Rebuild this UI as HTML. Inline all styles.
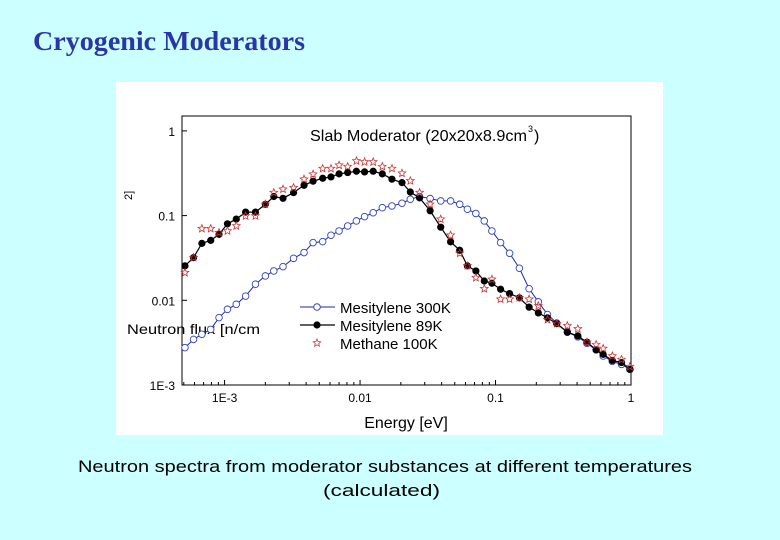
<!DOCTYPE html>
<html><head><meta charset="utf-8">
<style>
html,body{margin:0;padding:0;width:780px;height:540px;background:#ccffff;overflow:hidden}
svg{position:absolute;left:0;top:0}
</style></head>
<body>
<svg id="chart" width="780" height="540" xmlns="http://www.w3.org/2000/svg">
<text x="33" y="50" font-family="'Liberation Serif',serif" font-weight="bold" font-size="27" fill="#2a36a8" textLength="272" lengthAdjust="spacingAndGlyphs">Cryogenic Moderators</text>
<rect x="116" y="82" width="547" height="353" fill="#ffffff"/>
<g id="plot"></g>
<text x="78" y="472" font-family="'Liberation Sans',sans-serif" font-size="17" fill="#000" textLength="614" lengthAdjust="spacingAndGlyphs">Neutron spectra from moderator substances at different temperatures</text>
<text x="323" y="496" font-family="'Liberation Sans',sans-serif" font-size="17" fill="#000" textLength="117" lengthAdjust="spacingAndGlyphs">(calculated)</text>
</svg>
<script>
const energies=[5.1e-4,5.9e-4,6.8e-4,7.9e-4,9.1e-4,1.05e-3,1.22e-3,1.43e-3,1.69e-3,2.0e-3,2.31e-3,2.7e-3,3.23e-3,3.86e-3,4.5e-3,5.3e-3,6.1e-3,7.0e-3,8.1e-3,9.4e-3,0.0108,0.0125,0.0146,0.0172,0.0204,0.0235,0.0275,0.0329,0.0394,0.0466,0.0544,0.062,0.0716,0.0826,0.094,0.109,0.127,0.150,0.177,0.207,0.242,0.283,0.339,0.405,0.473,0.553,0.623,0.728,0.851,0.982];
const mes89=[0.0255,0.0319,0.047,0.051,0.060,0.080,0.091,0.110,0.110,0.136,0.168,0.160,0.187,0.228,0.255,0.276,0.286,0.311,0.322,0.334,0.328,0.334,0.311,0.269,0.245,0.190,0.162,0.114,0.073,0.049,0.039,0.0255,0.0222,0.0169,0.0159,0.0135,0.0120,0.0107,0.0083,0.0071,0.0062,0.0053,0.0042,0.0038,0.0032,0.0026,0.0023,0.00195,0.00184,0.00153];
const mes300=[0.00276,0.00346,0.00397,0.00454,0.00624,0.00783,0.00897,0.0112,0.0155,0.0194,0.0222,0.025,0.0313,0.0366,0.048,0.0493,0.0586,0.0659,0.0755,0.0865,0.0973,0.108,0.124,0.130,0.140,0.156,0.168,0.159,0.149,0.149,0.136,0.119,0.106,0.0865,0.0659,0.048,0.0359,0.0239,0.0137,0.0096,0.0068,0.0054,0.0042,0.0037,0.0031,0.0026,0.0022,0.0019,0.00175,0.00153];
const methane100=[0.0212,0.0319,0.0702,0.0702,0.063,0.0659,0.0755,0.099,0.099,0.136,0.187,0.205,0.214,0.269,0.308,0.359,0.359,0.393,0.379,0.442,0.430,0.430,0.379,0.359,0.316,0.257,0.187,0.136,0.0906,0.0586,0.0359,0.0255,0.0185,0.0137,0.0177,0.0103,0.0103,0.0107,0.0103,0.0086,0.0059,0.0053,0.0050,0.0046,0.0032,0.0030,0.0027,0.0022,0.0020,0.00165];
const xTicks=[0.001,0.01,0.1,1];
const xTickLabels=["1E-3","0.01","0.1","1"];
const yTicks=[0.001,0.01,0.1,1];
const yTickLabels=["1E-3","0.01","0.1","1"];

const NS="http://www.w3.org/2000/svg";
const g=document.getElementById('plot');
const L=182,R=631,T=116,B=385;
const xMin=Math.log10(4.85e-4),xMax=0;
const yMin=-3,yMax=-3+(B-T)/84.7;
function X(v){return L+(Math.log10(v)-xMin)/(xMax-xMin)*(R-L);}
function Y(v){return B-(Math.log10(v)-yMin)/(yMax-yMin)*(B-T);}
function mk(tag,attrs){const e=document.createElementNS(NS,tag);for(const k in attrs)e.setAttribute(k,attrs[k]);g.appendChild(e);return e;}
function txt(x,y,s,size,anchor){const e=mk('text',{x:x,y:y,'font-family':"'Liberation Sans',sans-serif",'font-size':size,'text-anchor':anchor||'start',fill:'#000'});e.textContent=s;return e;}

let fr=mk('rect',{x:L,y:T,width:R-L,height:B-T,fill:'none',stroke:'#000','stroke-width':1});



xTicks.forEach((v,i)=>{
  let l=mk('line',{x1:X(v),x2:X(v),y1:B,y2:B-5,stroke:'#000'});
  
  
  if(i<xTicks.length-1){for(let m=2;m<10;m++){const mv=v*m;let ml=mk('line',{x1:X(mv),x2:X(mv),y1:B,y2:B-3,stroke:'#000'});}}
  let t=txt(X(v),B+17,xTickLabels[i],12,'middle');
  
  
});
for(let m=5;m<10;m++){const mv=m*1e-4;let ml=mk('line',{x1:X(mv),x2:X(mv),y1:B,y2:B-3,stroke:'#000'});}
yTicks.forEach((v,i)=>{
  let l=mk('line',{x1:L,x2:L+5,y1:Y(v),y2:Y(v),stroke:'#000'});
  
  
  let t=txt(L-7,Y(v)+5,yTickLabels[i],12,'end');
  
  
});
let xt=txt(406,428,'Energy [eV]',16,'middle');


let yt=txt(127,334,'Neutron flux [n/cm',14,'start');


yt.setAttribute('textLength','133');
yt.setAttribute('lengthAdjust','spacingAndGlyphs');
let y2=txt(0,0,'2]',11,'start');
y2.setAttribute('transform','translate(132,200) rotate(-90)');


let ct=txt(310,141,'Slab Moderator (20x20x8.9cm',16,'start');
ct.setAttribute('textLength','217');
ct.setAttribute('lengthAdjust','spacingAndGlyphs');


let ct3=txt(528,132,'3',9,'start');


let ct4=txt(534,141,')',16,'start');



function pts(arr){return energies.map((e,i)=>X(e)+','+Y(arr[i])).join(' ');}
let l300=mk('polyline',{points:pts(mes300),fill:'none',stroke:'#1a2aa8','stroke-width':1});


energies.forEach((e,i)=>{let c=mk('circle',{cx:X(e),cy:Y(mes300[i]),r:3.3,fill:'#fff',stroke:'#3344bb','stroke-width':0.9});});
let l89=mk('polyline',{points:pts(mes89),fill:'none',stroke:'#000','stroke-width':1.2});


energies.forEach((e,i)=>{let c=mk('circle',{cx:X(e),cy:Y(mes89[i]),r:3.6,fill:'#000'});});
function star(cx,cy,r){let p=[];for(let k=0;k<10;k++){const a=-Math.PI/2+k*Math.PI/5;const rr=k%2?r*0.45:r;p.push((cx+rr*Math.cos(a)).toFixed(1)+','+(cy+rr*Math.sin(a)).toFixed(1));}return p.join(' ');}
energies.forEach((e,i)=>{let s=mk('polygon',{points:star(X(e),Y(methane100[i]),4),fill:'none',stroke:'#cc3333','stroke-width':0.8});});

let lg1=mk('line',{x1:300,x2:335,y1:307,y2:307,stroke:'#1a2aa8'});
let lc1=mk('circle',{cx:317,cy:307,r:3.3,fill:'#fff',stroke:'#3344bb'});
let lt1=txt(340,313,'Mesitylene 300K',15);
let lg2=mk('line',{x1:300,x2:335,y1:325,y2:325,stroke:'#000','stroke-width':1.2});
let lc2=mk('circle',{cx:317,cy:325,r:3.6,fill:'#000'});
let lt2=txt(340,331,'Mesitylene 89K',15);
let ls3=mk('polygon',{points:star(317,343,4),fill:'none',stroke:'#cc3333','stroke-width':0.8});
let lt3=txt(340,349,'Methane 100K',15);
</script>
</body></html>
